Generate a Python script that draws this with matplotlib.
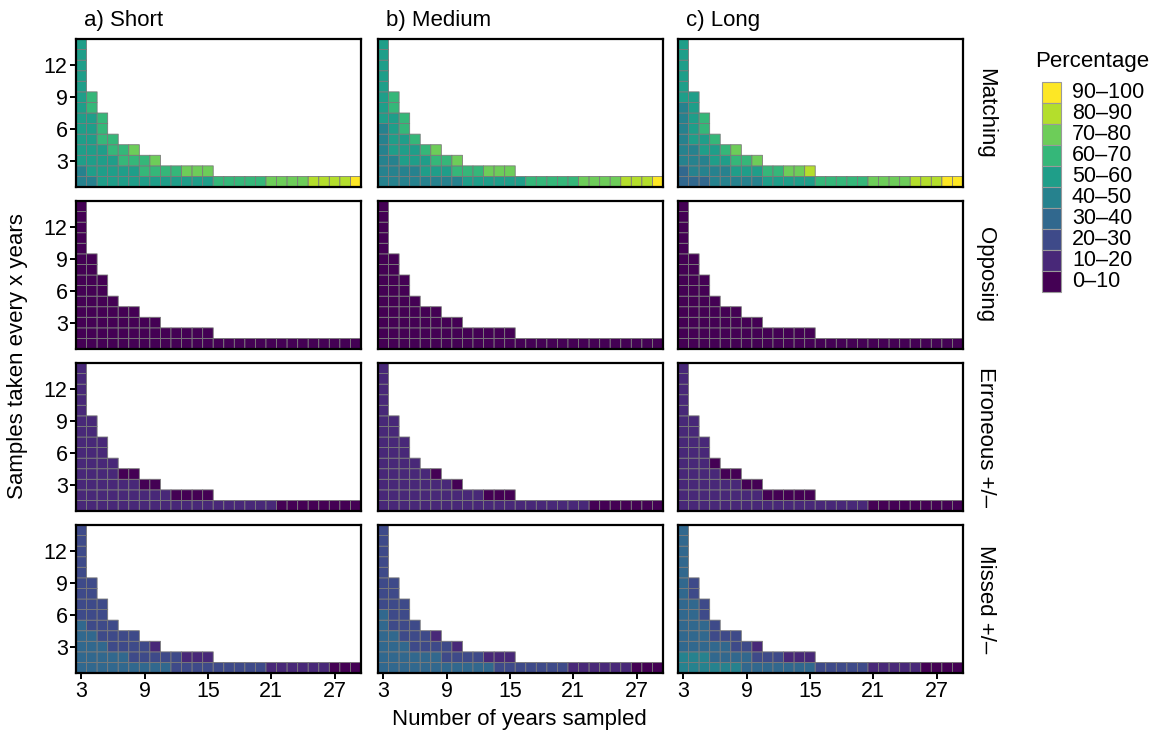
import numpy as np
import matplotlib
matplotlib.use("Agg")
import matplotlib.pyplot as plt
from matplotlib.colors import ListedColormap, BoundaryNorm
from matplotlib.patches import Rectangle

plt.rcParams['font.family'] = ['Liberation Sans', 'DejaVu Sans']

# ---------------- data ----------------
x_years = list(range(3, 30))          # Number of years sampled
intervals = list(range(1, 15))        # Samples taken every x years
bin_labels = ["0–10", "10–20", "20–30", "30–40", "40–50",
              "50–60", "60–70", "70–80", "80–90", "90–100"]
bin_colors = ["#440154", "#482878", "#3E4A89", "#31688E", "#26828E",
              "#1F9E89", "#35B779", "#6DCD59", "#B4DE2C", "#FDE725"]
lengths = ["a) Short", "b) Medium", "c) Long"]
outcomes = ["Matching", "Opposing", "Erroneous +/–", "Missed +/–"]

# Percentage bin index per tile; one string per interval (1..14), chars for x = 3, 4, ...
short_matching = ["44" + "5"*11 + "6"*5 + "7"*4 + "8"*4 + "9",
                  "4555556666777", "55556667", "555667", "5566", "556", "556",
                  "56", "56", "5", "5", "5", "5", "5"]
medium_matching = ["4"*8 + "5"*6 + "6"*5 + "7"*4 + "8"*3 + "9",
                   "4444555666777", "44555667", "455567", "4556", "456", "556",
                   "56", "56", "5", "5", "5", "5", "5"]
long_matching = ["333" + "4"*5 + "5"*5 + "6"*5 + "7"*4 + "888" + "99",
                 "3444455566778", "44455667", "445567", "4556", "456", "456",
                 "45", "55", "5", "5", "5", "5", "5"]

short_opposing = ["0"*27, "0"*13, "0"*8, "0"*6, "0"*4, "000", "000",
                  "00", "00", "0", "0", "0", "0", "0"]
medium_opposing = list(short_opposing)
long_opposing = list(short_opposing)

short_erroneous = ["1"*19 + "0"*8, "1"*9 + "0"*4, "11111100", "111100", "1111",
                   "111", "111", "11", "11", "1", "1", "1", "1", "1"]
medium_erroneous = ["1"*20 + "0"*7, "1"*10 + "0"*3, "11111110", "111110", "1111",
                    "111", "111", "11", "11", "1", "1", "1", "1", "1"]
long_erroneous = ["1"*18 + "0"*9, "1"*8 + "0"*5, "11111100", "111100", "1110",
                  "111", "111", "11", "11", "1", "1", "1", "1", "1"]

short_missed = ["3"*9 + "2"*9 + "1"*6 + "0"*3, "3333322222111", "33322221", "332222",
                "3222", "222", "222", "22", "22", "2", "2", "2", "2", "2"]
medium_missed = ["3"*11 + "2"*7 + "1"*6 + "0"*3, "3333332222111", "33322221", "332221",
                 "3222", "322", "222", "22", "22", "2", "2", "2", "2", "2"]
long_missed = ["4"*6 + "3"*7 + "2"*5 + "1"*5 + "0"*4, "4443333222111", "33333221", "333222",
               "3332", "332", "332", "32", "32", "3", "3", "3", "3", "3"]

panels = [[short_matching, medium_matching, long_matching],
          [short_opposing, medium_opposing, long_opposing],
          [short_erroneous, medium_erroneous, long_erroneous],
          [short_missed, medium_missed, long_missed]]

# ---------------- figure ----------------
W, H = 1162, 736
fig = plt.figure(figsize=(W / 100, H / 100), dpi=100)

cmap = ListedColormap(bin_colors)
norm = BoundaryNorm(np.arange(-0.5, 10.5, 1), cmap.N)

lefts = [76, 378, 678]
tops = [39, 201, 363, 525]
pw, ph = 285, 148

x_edges = np.arange(x_years[0] - 0.5, x_years[-1] + 1.0, 1.0)
y_edges = np.arange(intervals[0] - 0.5, intervals[-1] + 1.0, 1.0)

FS = 15.5
for r, outcome in enumerate(outcomes):
    for c, length in enumerate(lengths):
        ax = fig.add_axes([lefts[c] / W, 1 - (tops[r] + ph) / H, pw / W, ph / H])
        Z = np.full((len(intervals), len(x_years)), np.nan)
        for i, s in enumerate(panels[r][c]):
            for j, ch in enumerate(s):
                Z[i, j] = int(ch)
        ax.pcolor(x_edges, y_edges, np.ma.masked_invalid(Z), cmap=cmap, norm=norm,
                  edgecolors='#7a7a7a', linewidth=0.6)
        ax.set_xlim(x_edges[0], x_edges[-1])
        ax.set_ylim(y_edges[0], y_edges[-1])
        for sp in ax.spines.values():
            sp.set_linewidth(1.6)
            sp.set_color('black')
        ax.set_xticks([3, 9, 15, 21, 27])
        ax.set_yticks([3, 6, 9, 12])
        ax.tick_params(length=4, width=1.4, color='black', labelsize=FS, pad=2)
        if r != len(outcomes) - 1:
            ax.tick_params(axis='x', length=0, labelbottom=False)
        if c != 0:
            ax.tick_params(axis='y', length=0, labelleft=False)
        if r == 0:
            ax.text(0.0, 1.0, length, transform=ax.transAxes, ha='left', va='bottom',
                    fontsize=FS + 0.5)
            ax.texts[-1].set_position((8 / pw, 1 + 8 / ph))
        if c == len(lengths) - 1:
            ax.text(1 + 23 / pw, 0.5, outcome, transform=ax.transAxes, rotation=-90,
                    ha='center', va='center', fontsize=FS + 0.5)

fig.text(18 / W, 1 - 356 / H, "Samples taken every x years", rotation=90,
         ha='center', va='center', fontsize=FS + 0.5)
fig.text(519 / W, 1 - 720 / H, "Number of years sampled",
         ha='center', va='center', fontsize=FS + 0.5)

# ---------------- legend ----------------
fig.text(1035 / W, 1 - 62 / H, "Percentage", ha='left', va='center', fontsize=FS + 0.5)
kx, ky0, kw, kh = 1042, 82, 19, 21
for k in range(len(bin_labels)):
    idx = len(bin_labels) - 1 - k
    y_top = ky0 + k * kh
    fig.add_artist(Rectangle((kx / W, 1 - (y_top + kh) / H), kw / W, kh / H,
                             transform=fig.transFigure, facecolor=bin_colors[idx],
                             edgecolor='#9a9a9a', linewidth=0.8))
    fig.text(1072 / W, 1 - (y_top + kh / 2) / H, bin_labels[idx],
             ha='left', va='center', fontsize=FS)

fig.savefig("out.png", dpi=100)
